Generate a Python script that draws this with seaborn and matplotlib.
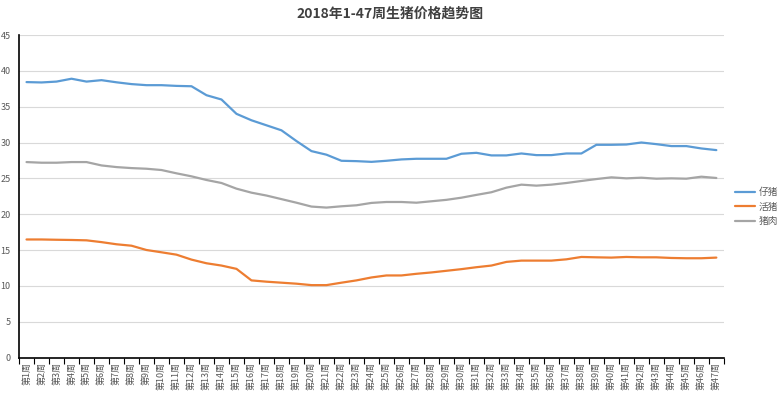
import numpy as np
import pandas as pd
import matplotlib
matplotlib.use('Agg')
import matplotlib.pyplot as plt
import seaborn as sns

weeks = ['第%d周' % i for i in range(1, 48)]

# 仔猪
piglet = [38.43, 38.38, 38.5, 38.9, 38.5, 38.7, 38.4, 38.15, 38.0, 38.0,
          37.9, 37.85, 36.6, 36.0, 34.0, 33.1, 32.4, 31.7, 30.2, 28.8,
          28.3, 27.45, 27.4, 27.3, 27.45, 27.64, 27.73, 27.73, 27.73, 28.43,
          28.56, 28.2, 28.2, 28.47, 28.24, 28.24, 28.47, 28.47, 29.68, 29.68,
          29.72, 30.0, 29.77, 29.5, 29.5, 29.17, 28.94]
# 活猪
live_hog = [16.47, 16.47, 16.43, 16.4, 16.35, 16.1, 15.8, 15.6, 15.0, 14.68,
            14.35, 13.66, 13.15, 12.83, 12.37, 10.76, 10.58, 10.44, 10.3, 10.1,
            10.1, 10.44, 10.76, 11.17, 11.45, 11.45, 11.68, 11.87, 12.1, 12.33,
            12.6, 12.83, 13.34, 13.52, 13.52, 13.52, 13.7, 14.03, 13.98, 13.94,
            14.03, 13.98, 13.98, 13.89, 13.85, 13.85, 13.94]
# 猪肉
pork = [27.27, 27.18, 27.18, 27.27, 27.27, 26.8, 26.57, 26.43, 26.34, 26.16,
        25.7, 25.28, 24.77, 24.35, 23.56, 23.0, 22.6, 22.1, 21.6, 21.06,
        20.92, 21.1, 21.24, 21.57, 21.7, 21.7, 21.6, 21.8, 22.0, 22.3,
        22.69, 23.06, 23.7, 24.12, 23.98, 24.12, 24.35, 24.63, 24.9, 25.14,
        25.0, 25.09, 24.95, 25.0, 24.95, 25.23, 25.05]

series_names = ['仔猪', '活猪', '猪肉']
colors = ['#5B9BD5', '#ED7D31', '#A5A5A5']

df = pd.DataFrame({'周': weeks * 3,
                   '价格': piglet + live_hog + pork,
                   '品种': [series_names[0]] * 47 + [series_names[1]] * 47 + [series_names[2]] * 47})

sns.set_style('white')
plt.rcParams['font.family'] = ['Noto Sans CJK SC', 'DejaVu Sans']

fig = plt.figure(figsize=(7.8, 3.96), dpi=100)
ax = fig.add_axes([0.0244, 0.0972, 0.9036, 0.8144])

sns.lineplot(data=df, x='周', y='价格', hue='品种', hue_order=series_names,
             palette=colors, linewidth=1.6, sort=False, ax=ax)

ax.set_xlim(-0.5, 46.5)
ax.set_ylim(0, 45)
ax.set_yticks(range(0, 46, 5))
ax.set_xlabel('')
ax.set_ylabel('')
ax.grid(axis='y', color='#D9D9D9', linewidth=0.8)
ax.set_axisbelow(True)

ax.set_xticks(range(47))
ax.set_xticklabels(weeks, rotation=90, fontsize=6.5, color='#595959')
ax.set_xticks(np.arange(-0.5, 47, 1), minor=True)
ax.tick_params(axis='x', which='major', length=0, pad=3)
ax.tick_params(axis='x', which='minor', length=4, width=0.8, color='black', direction='out', bottom=True)
ax.tick_params(axis='y', length=0, labelsize=6.5, labelcolor='#595959', pad=6)

for s in ['top', 'right']:
    ax.spines[s].set_visible(False)
ax.spines['left'].set_color('black')
ax.spines['bottom'].set_color('black')
ax.spines['left'].set_linewidth(1.2)
ax.spines['bottom'].set_linewidth(1.2)

leg = ax.legend(loc='center left', bbox_to_anchor=(0.942, 0.478), bbox_transform=fig.transFigure,
                frameon=False, fontsize=7, handlelength=2.1, labelspacing=0.45,
                handletextpad=0.35, borderaxespad=0, borderpad=0)
for t in leg.get_texts():
    t.set_color('#595959')

fig.text(0.5, 0.965, '2018年1-47周生猪价格趋势图', ha='center', va='center',
         fontsize=10, fontweight='bold', color='#404040')

fig.savefig('out.png', dpi=100)
